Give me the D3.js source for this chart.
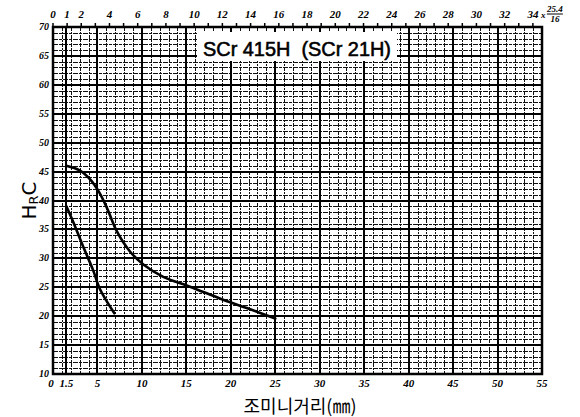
<!DOCTYPE html>
<html>
<head>
<meta charset="utf-8">
<script src="https://cdn.jsdelivr.net/npm/d3@7"></script>
<style>
  body { margin: 0; background: #fff; }
  svg { display: block; }
</style>
</head>
<body>
<script>
const width = 580;
const height = 417;

// data
const xTicks = [0, 1.5, 5, 10, 15, 20, 25, 30, 35, 40, 45, 50, 55];
const yTicks = [10, 15, 20, 25, 30, 35, 40, 45, 50, 55, 60, 65, 70];
const topTicks = [0, 1, 2, 4, 6, 8, 10, 12, 14, 16, 18, 20, 22, 24, 26, 28, 30, 32, 34];
const upperDist = [1.5, 3.0, 4.2, 5.2, 6.1, 7.2, 8.7, 10.2, 12.4, 15.4, 19.2, 21.8, 25];
const upperHrc = [46, 45.2, 43.6, 41.4, 38.6, 34.6, 31.1, 28.9, 26.8, 25.1, 22.8, 21.4, 19.6];
const lowerDist = [1.5, 2.3, 3.4, 4.5, 5.3, 6.9];
const lowerHrc = [39, 36.2, 32, 28, 24.6, 20.5];

const margin = { top: 27, right: 38, bottom: 43, left: 53 };

const svg = d3
  .select("body")
  .append("svg")
  .attr("width", width)
  .attr("height", height);

const x = d3.scaleLinear().domain([0, 55]).range([margin.left, width - margin.right]);
const y = d3.scaleLinear().domain([10, 70]).range([height - margin.bottom, margin.top]);
// top axis in 1/16 inch
const xTop = d3.scaleLinear().domain([0, 34]).range([x(0), x(34 * 25.4 / 16)]);

const grid = svg.append("g").attr("shape-rendering", "crispEdges");

// minor grid, every 1 mm / 1 HRC
grid.selectAll(".vx")
  .data(d3.range(1, 55))
  .enter()
  .append("line")
  .attr("x1", (d) => Math.round(x(d)) + 0.5)
  .attr("x2", (d) => Math.round(x(d)) + 0.5)
  .attr("y1", y(70))
  .attr("y2", y(10))
  .attr("stroke", "#111")
  .attr("stroke-width", 1.2)
  .attr("stroke-dasharray", "4,1,2,1");

grid.selectAll(".hy")
  .data(d3.range(11, 70))
  .enter()
  .append("line")
  .attr("y1", (d) => Math.round(y(d)) + 0.5)
  .attr("y2", (d) => Math.round(y(d)) + 0.5)
  .attr("x1", x(0))
  .attr("x2", x(55))
  .attr("stroke", "#111")
  .attr("stroke-width", 1.2)
  .attr("stroke-dasharray", "5,1,3,1");

// major grid lines
grid.selectAll(".mx")
  .data(xTicks.filter((d) => d > 0 && d < 55))
  .enter()
  .append("line")
  .attr("x1", (d) => Math.round(x(d)))
  .attr("x2", (d) => Math.round(x(d)))
  .attr("y1", y(70))
  .attr("y2", y(10))
  .attr("stroke", "#000")
  .attr("stroke-width", 2);

grid.selectAll(".my")
  .data(yTicks.filter((d) => d > 10 && d < 70))
  .enter()
  .append("line")
  .attr("y1", (d) => Math.round(y(d)))
  .attr("y2", (d) => Math.round(y(d)))
  .attr("x1", x(0))
  .attr("x2", x(55))
  .attr("stroke", "#000")
  .attr("stroke-width", 1.6);

// frame
svg.append("rect")
  .attr("x", x(0))
  .attr("y", y(70))
  .attr("width", x(55) - x(0))
  .attr("height", y(10) - y(70))
  .attr("fill", "none")
  .attr("stroke", "#000")
  .attr("stroke-width", 2.5);

// top ticks (1/16 inch)
svg.append("g")
  .selectAll("line")
  .data(d3.range(0, 35))
  .enter()
  .append("line")
  .attr("x1", (d) => xTop(d))
  .attr("x2", (d) => xTop(d))
  .attr("y1", y(70) - 4)
  .attr("y2", y(70))
  .attr("stroke", "#000")
  .attr("stroke-width", 1.5);

const tickFont = "bold italic 11px 'Liberation Serif', 'DejaVu Serif', serif";

svg.append("g")
  .selectAll("text")
  .data(topTicks)
  .enter()
  .append("text")
  .attr("x", (d) => xTop(d))
  .attr("y", 18)
  .attr("text-anchor", "middle")
  .style("font", tickFont)
  .text((d) => d);

// "x 25.4/16" note
const note = svg.append("g").style("font", "bold italic 9px 'Liberation Serif', serif");
note.append("text").attr("x", xTop(34) + 8).attr("y", 18).text("x");
note.append("text").attr("x", xTop(34) + 22).attr("y", 12).attr("text-anchor", "middle").text("25.4");
note.append("line")
  .attr("x1", xTop(34) + 14).attr("x2", xTop(34) + 30)
  .attr("y1", 14).attr("y2", 14)
  .attr("stroke", "#000").attr("stroke-width", 1);
note.append("text").attr("x", xTop(34) + 22).attr("y", 22).attr("text-anchor", "middle").text("16");

// bottom and left labels
svg.append("g")
  .selectAll("text")
  .data(xTicks)
  .enter()
  .append("text")
  .attr("x", (d) => x(d) + (d === 0 ? -2 : 0))
  .attr("y", y(10) + 13)
  .attr("text-anchor", "middle")
  .style("font", tickFont)
  .text((d) => d);

svg.append("g")
  .selectAll("text")
  .data(yTicks)
  .enter()
  .append("text")
  .attr("x", x(0) - 4)
  .attr("y", (d) => y(d) + 3)
  .attr("text-anchor", "end")
  .style("font", "bold italic 10px 'Liberation Serif', 'DejaVu Serif', serif")
  .text((d) => d);

// curves
const line = d3.line()
  .x((d) => x(d[0]))
  .y((d) => y(d[1]))
  .curve(d3.curveCatmullRom.alpha(0.5));

[[upperDist, upperHrc], [lowerDist, lowerHrc]].forEach(([xs, ys]) => {
  svg.append("path")
    .datum(xs.map((v, i) => [v, ys[i]]))
    .attr("d", line)
    .attr("fill", "none")
    .attr("stroke", "#000")
    .attr("stroke-width", 2.6)
    .attr("stroke-linecap", "round");
});

// title box
svg.append("rect")
  .attr("x", 197)
  .attr("y", 32)
  .attr("width", 200)
  .attr("height", 29)
  .attr("fill", "#fff");
svg.append("text")
  .attr("x", 203)
  .attr("y", 56)
  .attr("textLength", 188)
  .attr("lengthAdjust", "spacingAndGlyphs")
  .style("white-space", "pre")
  .style("font", "500 21px 'Liberation Sans', 'DejaVu Sans', sans-serif")
  .style("stroke", "#000")
  .style("stroke-width", 0.6)
  .text("SCr 415H  (SCr 21H)");

// axis titles
const yt = svg.append("text")
  .attr("transform", `translate(36,${y(40)}) rotate(-90)`)
  .attr("text-anchor", "middle")
  .style("font", "20px 'DejaVu Sans', sans-serif");
yt.append("tspan").text("H");
yt.append("tspan").attr("font-size", "13px").attr("dy", 2).text("R");
yt.append("tspan").attr("dy", -2).text("C");

svg.append("text")
  .attr("x", 300)
  .attr("y", 413)
  .attr("text-anchor", "middle")
  .style("font", "18px 'Noto Sans CJK KR', sans-serif")
  .text("조미니거리(㎜)");
</script>
</body>
</html>
